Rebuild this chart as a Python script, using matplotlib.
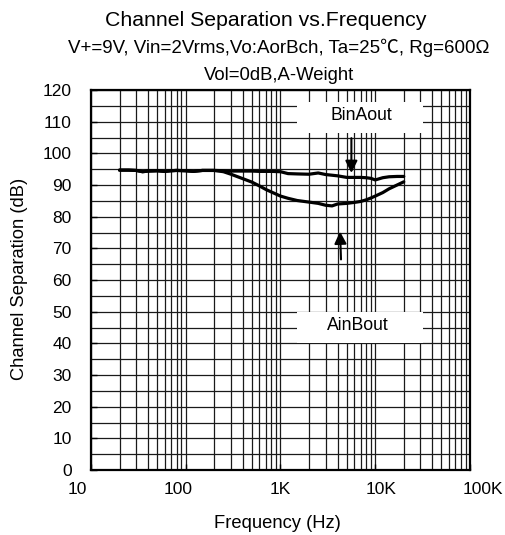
import numpy as np
import matplotlib
matplotlib.use("Agg")
import matplotlib.pyplot as plt
from matplotlib.patches import Rectangle
from matplotlib.ticker import FixedLocator, NullFormatter

plt.rcParams['font.family'] = ['Liberation Sans', 'Noto Sans CJK SC', 'DejaVu Sans']

# Measured channel separation, B input -> A output
binaout_freq = [20, 25, 30, 35, 40, 50, 60, 70, 80, 100, 120, 150, 200, 250, 300,
                400, 500, 600, 800, 1000, 1200, 1500, 2000, 2500, 3000, 4000, 5000,
                6000, 7000, 8000, 9000, 10000, 12000, 14000, 17000, 20000]
binaout_db = [94.7, 94.7, 94.6, 94.2, 94.4, 94.5, 94.3, 94.5, 94.6, 94.5, 94.3, 94.6,
              94.6, 94.5, 94.4, 94.4, 94.4, 94.3, 94.3, 94.2, 93.6, 93.5, 93.4, 93.8,
              93.3, 92.9, 92.4, 92.4, 92.4, 92.3, 92.1, 91.6, 92.3, 92.6, 92.7, 92.7]

# Measured channel separation, A input -> B output
ainbout_freq = [20, 25, 30, 35, 40, 50, 60, 70, 80, 100, 120, 150, 200, 250, 300,
                400, 500, 600, 700, 800, 1000, 1200, 1500, 2000, 2500, 3000, 3500,
                4000, 5000, 6000, 7000, 8000, 9000, 10000, 12000, 14000, 17000, 20000]
ainbout_db = [94.7, 94.7, 94.6, 94.2, 94.4, 94.5, 94.3, 94.5, 94.6, 94.5, 94.3, 94.6,
              94.6, 94.2, 93.4, 92.0, 90.9, 89.7, 88.6, 87.8, 86.5, 85.8, 85.1, 84.6,
              84.2, 83.6, 83.4, 84.0, 84.2, 84.5, 84.8, 85.3, 85.9, 86.5, 87.6, 88.8,
              90.0, 91.0]

x_tick_values = [10, 100, 1000, 10000, 100000]
x_tick_labels = ['10', '100', '1K', '10K', '100K']
y_tick_values = list(range(0, 121, 10))

title = 'Channel Separation vs.Frequency'
subtitle1 = 'V+=9V, Vin=2Vrms,Vo:AorBch, Ta=25\u2103, Rg=600\u03a9'
subtitle2 = 'Vol=0dB,A-Weight'

W, H = 506, 535
fig = plt.figure(figsize=(W / 100, H / 100), dpi=100)

L, R, T, B = 91, 470, 90, 470
ax = fig.add_axes([L / W, 1 - B / H, (R - L) / W, (B - T) / H])
ax.set_xscale('log')
ax.set_xlim(10, 100000)
ax.set_ylim(0, 120)

# log grid: every 1..9 step in each decade, horizontal lines every 5 dB
minor_x = [m * 10 ** d for d in range(1, 5) for m in range(2, 10)]
ax.xaxis.set_major_locator(FixedLocator(x_tick_values))
ax.xaxis.set_minor_locator(FixedLocator(minor_x))
ax.xaxis.set_major_formatter(NullFormatter())
ax.xaxis.set_minor_formatter(NullFormatter())
ax.yaxis.set_major_locator(FixedLocator(y_tick_values))
ax.yaxis.set_minor_locator(FixedLocator(list(range(5, 120, 10))))
ax.set_axisbelow(True)
ax.grid(which='both', color='#1a1a1a', linewidth=0.9)
ax.tick_params(axis='both', which='major', direction='in', length=4, width=1.0)
ax.tick_params(axis='both', which='minor', length=0)
ax.tick_params(axis='y', labelsize=12.5, pad=14)
for s in ax.spines.values():
    s.set_linewidth(1.6)

ax.plot(binaout_freq, binaout_db, color='black', linewidth=2.3, zorder=3,
        solid_joinstyle='round', solid_capstyle='round')
ax.plot(ainbout_freq, ainbout_db, color='black', linewidth=2.3, zorder=3,
        solid_joinstyle='round', solid_capstyle='round')

# label boxes hiding the grid behind the curve names
ax.add_patch(Rectangle((0.5435, 0.887), 0.3325, 0.081, transform=ax.transAxes,
                       facecolor='white', edgecolor='none', zorder=1.5))
ax.add_patch(Rectangle((0.5435, 0.334), 0.3325, 0.083, transform=ax.transAxes,
                       facecolor='white', edgecolor='none', zorder=1.5))
ax.text(0.714, 0.932, 'BinAout', transform=ax.transAxes, ha='center', va='center',
        fontsize=12.7, zorder=4)
ax.text(0.705, 0.379, 'AinBout', transform=ax.transAxes, ha='center', va='center',
        fontsize=12.7, zorder=4)

arrow = dict(arrowstyle='-|>,head_length=0.4,head_width=0.2', mutation_scale=18,
             color='black', linewidth=1.5, shrinkA=0, shrinkB=0)
ax.annotate('', xy=(5600, 93.8), xytext=(5600, 104.8), arrowprops=arrow, zorder=4)
ax.annotate('', xy=(4250, 75.3), xytext=(4350, 66.5), arrowprops=arrow, zorder=4)

# decade labels on a slightly wider, transparent scale
lab = fig.add_axes([77 / W, 1 - B / H, 406 / W, (B - T) / H])
lab.set_xscale('log')
lab.set_xlim(10, 100000)
lab.set_xticks(x_tick_values)
lab.set_xticklabels(x_tick_labels)
lab.xaxis.set_minor_locator(FixedLocator([]))
lab.tick_params(axis='x', length=0, labelsize=12.5, pad=8.5)
lab.set_yticks([])
lab.patch.set_visible(False)
for s in lab.spines.values():
    s.set_visible(False)

fig.text(266 / W, 1 - 21 / H, title, ha='center', va='center', fontsize=15.3)
fig.text(279 / W, 1 - 48 / H, subtitle1, ha='center', va='center', fontsize=13.5)
fig.text(279 / W, 1 - 75 / H, subtitle2, ha='center', va='center', fontsize=13.3)
fig.text(277 / W, 1 - 523 / H, 'Frequency (Hz)', ha='center', va='center', fontsize=13.2)
fig.text(20 / W, 1 - 279 / H, 'Channel Separation (dB)', ha='center', va='center',
         rotation=90, fontsize=13.2)

fig.savefig('out.png', dpi=100, facecolor='white')
